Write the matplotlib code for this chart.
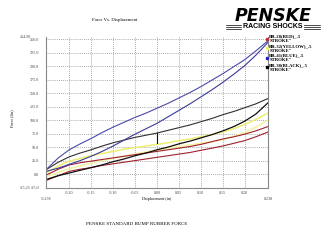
import matplotlib
matplotlib.use("Agg")
import matplotlib.pyplot as plt
from matplotlib.lines import Line2D

# displacement samples (in)
disp = [-0.253, -0.225, -0.20, -0.175, -0.15, -0.125, -0.10, -0.075, -0.05, -0.025,
        0.0, 0.025, 0.05, 0.075, 0.10, 0.125, 0.15, 0.175, 0.20, 0.225, 0.253]

# force (lbs), loading / unloading branch of each bump rubber
red_up = [-2, 9, 17, 21, 24, 27, 30, 33, 36, 39, 42, 45, 48, 51, 55, 60, 65, 69, 74, 80, 88]
red_down = [-12, -3, 5, 9, 12, 16, 19, 22, 25, 28, 31, 34, 37, 40, 44, 48, 52, 57, 62, 69, 78]
yellow_up = [2, 15, 24, 29, 34, 38, 42, 46, 49, 52, 55, 58, 62, 65, 69, 73, 78, 84, 92, 101, 113]
yellow_down = [-5, 3, 10, 15, 20, 25, 29, 33, 37, 41, 44, 48, 51, 54, 57, 60, 64, 70, 77, 87, 100]
blue_up = [8, 30, 45, 56, 66, 77, 87, 96, 105, 113, 122, 131, 141, 151, 162, 174, 186, 199, 212,
           228, 247]
blue_down = [5, 11, 18, 25, 33, 42, 52, 63, 74, 84, 94, 106, 118, 130, 143, 156, 170, 185, 201,
             220, 244]
black_up = [8, 22, 32, 39, 45, 52, 58, 63, 68, 72, 76, 81, 86, 91, 97, 103, 110, 116, 123, 130,
            140]
black_down = [-10, -3, 2, 7, 12, 17, 23, 28, 34, 39, 45, 50, 56, 61, 67, 73, 80, 88, 98, 111,
              132]
black_step_x = [0.0, 0.0]
black_step_y = [57, 76]

legend_labels = ['BR-28(RED)_.5\nSTROKE"', 'BR-32(YELLOW)_.5\nSTROKE"',
                 'BR-41(BLUE)_.5\nSTROKE"', 'BR-38(BLACK)_.5\nSTROKE"']
yticks = [-25, 0, 25, 50, 75, 100, 125, 150, 175, 200, 225, 250]
xticks = [-0.20, -0.15, -0.10, -0.05, 0.0, 0.05, 0.10, 0.15, 0.20]

serif = "Liberation Serif"
gray = "#444444"

fig = plt.figure(figsize=(3.30, 2.46), dpi=100)
ax = fig.add_axes([0.1394, 0.237, 0.6727, 0.6146])

ax.plot(disp, yellow_up, color="#eeee70", lw=1.1)
ax.plot(disp, yellow_down, color="#f2f2a0", lw=1.1)
ax.plot(disp, red_up, color="#a0202c", lw=0.8)
ax.plot(disp, red_down, color="#a0202c", lw=0.8)
ax.plot(disp, black_up, color="#303030", lw=0.8)
ax.plot(disp, black_down, color="#101010", lw=0.9)
ax.plot(black_step_x, black_step_y, color="#101010", lw=0.8)
ax.plot(disp, blue_up, color="#4a4aa8", lw=0.8)
ax.plot(disp, blue_down, color="#3a3a9a", lw=0.8)

ax.set_xlim(-0.253, 0.253)
ax.set_ylim(-25.25, 254.9)
ax.set_xticks(xticks)
ax.set_xticklabels([f"{v:.2f}" for v in xticks])
ax.set_yticks(yticks)
ax.set_yticklabels([f"{v:.1f}" for v in yticks])
ax.tick_params(length=0, labelsize=3, colors=gray)
ax.tick_params(axis="y", pad=5)
ax.tick_params(axis="x", pad=2.5)
for lab in ax.get_xticklabels() + ax.get_yticklabels():
    lab.set_family(serif)
ax.grid(True, color="#777777", linestyle=(0, (1.2, 1.8)), lw=0.5)
ax.spines["top"].set_visible(False)
for s in ["left", "bottom", "right"]:
    ax.spines[s].set_color("#888888")
    ax.spines[s].set_linewidth(0.8)

# edge value labels of the original chart
ax.text(-0.253, -0.06, "-0.238", transform=ax.get_xaxis_transform(),
        ha="center", va="top", fontsize=3, family=serif, color=gray)
ax.text(0.253, -0.06, "0.238", transform=ax.get_xaxis_transform(),
        ha="center", va="top", fontsize=3, family=serif, color=gray)
ax.text(-0.068, 1.0, "254.90", transform=ax.transAxes, ha="right", va="center",
        fontsize=3, family=serif, color=gray)
ax.text(-0.068, 0.0, "-25.25", transform=ax.transAxes, ha="right", va="center",
        fontsize=3, family=serif, color=gray)

ax.set_xlabel("Displacement (in)", fontsize=3, family=serif, labelpad=1.5)
fig.text(11.7 / 330, 1 - 118 / 246, "Force (lbs)", rotation=90, fontsize=3,
         family=serif, ha="center", va="center")
fig.text(115 / 330, 1 - 20 / 246, "Force Vs. Displacement", fontsize=3.4,
         family=serif, ha="center", va="center")
fig.text(137 / 330, 1 - 224 / 246, "PENSKE STANDARD BUMP RUBBER FORCE",
         fontsize=3.6, family=serif, ha="center", va="center")

# legend
handles = [Line2D([], [], ls="none", marker="s", ms=1.6, color=c)
           for c in ["#c03030", "#f0f070", "#2020c0", "#000000"]]
leg = fig.legend(handles, legend_labels, loc="upper left",
                 bbox_to_anchor=(266 / 330, 1 - 34.5 / 246), frameon=False,
                 prop={"family": serif, "size": 3.4, "weight": "bold"},
                 handlelength=0.4, handletextpad=0.3, labelspacing=0.2,
                 borderpad=0, borderaxespad=0)

# logo
fig.text(273 / 330, 1 - 16 / 246, "PENSKE", fontsize=12.5, weight="heavy",
         style="italic", family="DejaVu Sans", ha="center", va="center")
fig.text(272.5 / 330, 1 - 27 / 246, "RACING SHOCKS", fontsize=5,
         weight="bold", family="Liberation Sans", ha="center", va="center")
for yy in [25.3, 27, 28.7]:
    fig.add_artist(Line2D([226 / 330, 241 / 330], [1 - yy / 246] * 2,
                          color="black", lw=0.5))
    fig.add_artist(Line2D([304 / 330, 320 / 330], [1 - yy / 246] * 2,
                          color="black", lw=0.5))

fig.savefig("out.png", dpi=100)
